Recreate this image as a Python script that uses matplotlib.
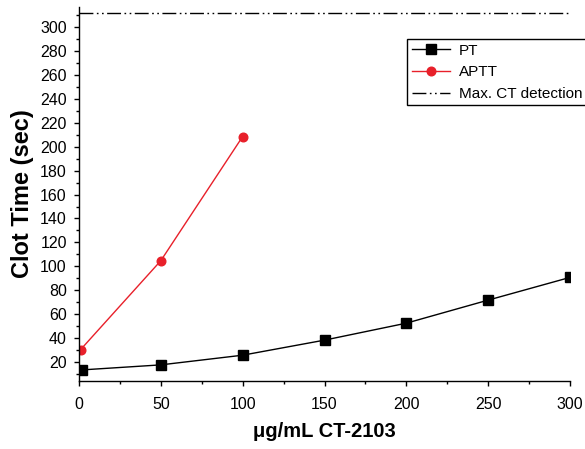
import numpy as np
import matplotlib
matplotlib.use('Agg')
import matplotlib.pyplot as plt
from matplotlib.ticker import MultipleLocator

# values
pt_conc = [2, 50, 100, 150, 200, 250, 300]
pt_time = [13.3, 17.5, 25.6, 38.2, 52.4, 71.7, 90.7]
aptt_conc = [1, 50, 100]
aptt_time = [30.3, 104.7, 208.6]
max_ct = 312

plt.rcParams['font.family'] = ['Liberation Sans', 'DejaVu Sans']

fig = plt.figure(figsize=(5.85, 4.49), dpi=100)
ax = fig.add_axes([79/585, 1 - 381/449, (570-79)/585, (381-7)/449])

ax.plot(pt_conc, pt_time, color='black', lw=1.0, marker='s', ms=6.8, label='PT')
ax.plot(aptt_conc, aptt_time, color='#E8202A', lw=1.0, marker='o', ms=6.2, label='APTT')
ax.axhline(max_ct, color='black', lw=1.0, dashes=(10, 2.5, 1.2, 2.5, 1.2, 2.5),
           label='Max. CT detection')

ax.set_xlim(0, 300)
ax.set_ylim(4, 317)
ax.xaxis.set_major_locator(MultipleLocator(50))
ax.xaxis.set_minor_locator(MultipleLocator(25))
ax.yaxis.set_major_locator(MultipleLocator(20))
ax.yaxis.set_minor_locator(MultipleLocator(10))
ax.set_yticks(np.arange(20, 301, 20))

for s in ['top', 'right']:
    ax.spines[s].set_visible(False)
for s in ['left', 'bottom']:
    ax.spines[s].set_linewidth(1.0)

ax.tick_params(which='major', direction='out', length=3.8, width=1.0, labelsize=11.5)
ax.tick_params(which='minor', direction='out', length=2.3, width=1.0)
ax.tick_params(axis='y', which='major', pad=5)
ax.tick_params(axis='x', which='major', pad=8)

ax.set_xlabel('μg/mL CT-2103', fontsize=14.5, fontweight='bold', labelpad=7)
ax.set_ylabel('Clot Time (sec)', fontsize=17, fontweight='bold', labelpad=4)

leg = ax.legend(loc='upper left', bbox_to_anchor=(407/585, 1 - 39/449),
                bbox_transform=fig.transFigure, borderaxespad=0, fontsize=11,
                frameon=True, fancybox=False, shadow=False, framealpha=1,
                edgecolor='black', handlelength=2.5, handletextpad=0.6,
                labelspacing=0.5, borderpad=0.3)
leg.get_frame().set_linewidth(1.0)

fig.savefig('out.png', dpi=100)
